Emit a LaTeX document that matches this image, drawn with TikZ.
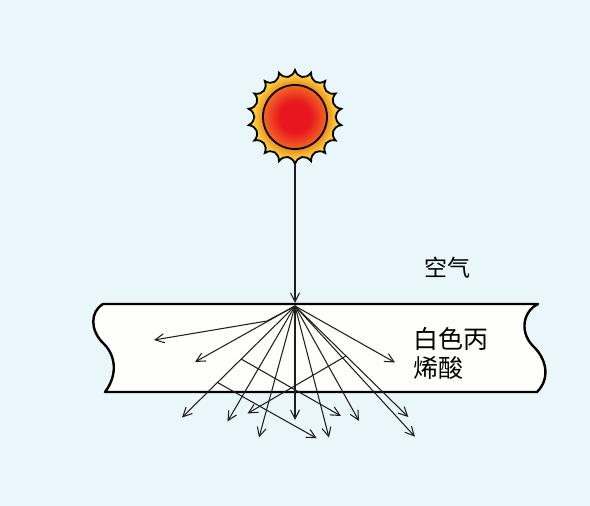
\documentclass[tikz,border=0pt]{standalone}
\usepackage{fontspec}
\newfontfamily\cjk{Noto Sans CJK SC}
\usetikzlibrary{arrows.meta,calc}

\definecolor{paper}{RGB}{233,246,250}
\definecolor{slabwhite}{RGB}{254,254,252}
\definecolor{sunred}{RGB}{232,22,30}
\definecolor{sunedge}{RGB}{242,104,36}
\definecolor{sunorange}{RGB}{238,136,32}
\definecolor{sunyellow}{RGB}{250,206,55}
\definecolor{sunpale}{RGB}{252,218,66}
\definecolor{ink}{RGB}{30,30,30}

% yellow ring around the disc, deepening to orange towards the disc
\pgfdeclareradialshading{sunring}{\pgfpointorigin}{color(0bp)=(sunorange); color(17bp)=(sunorange); color(22bp)=(sunyellow); color(25bp)=(sunpale); color(50bp)=(sunpale)}
% red disc turning orange at its rim
\pgfdeclareradialshading{sundisk}{\pgfpointorigin}{color(0bp)=(sunred); color(12bp)=(sunred); color(25bp)=(sunedge); color(50bp)=(sunedge)}

\tikzset{
  ray/.style={draw=ink, line width=1.05pt, -{Straight Barb[length=9pt,width=9pt]}},
  slabline/.style={line width=2.4pt, line join=round},
  sunline/.style={line width=1.8pt},
  txt/.style={inner sep=0pt, font=\cjk\fontsize{23}{29}\selectfont},
  txtbig/.style={inner sep=0pt, align=left, font=\cjk\fontsize{25}{29}\selectfont},
}

\begin{document}
\begin{tikzpicture}[x=1pt,y=-1pt]
  \fill[paper] (0,0) rectangle (590,506);
  \useasboundingbox (0,0) rectangle (590,506);

  % acrylic slab with wavy cut ends
  \filldraw[fill=slabwhite, slabline]
    (103,304) -- (538,304)
    .. controls (522,312) and (520,333) .. (533,346)
    .. controls (546,358) and (551,378) .. (537,392)
    -- (105,392)
    .. controls (118,375) and (116,355) .. (103,343)
    .. controls (90,330) and (90,312) .. (103,304) -- cycle;

  % sun
  \begin{scope}[shift={(295,117)}]
    \coordinate (sun) at (0,0);
    \shadedraw[shading=sunring, sunline, line join=miter]
      (90:47pt) \foreach \i in {0,...,17}{
        .. controls ({94+20*\i}:39pt) and ({106+20*\i}:39pt) .. ({110+20*\i}:47pt)
      } -- cycle;
    \shadedraw[shading=sundisk, sunline] (sun) circle (32pt);
    \coordinate (sunbase) at (270:47pt);
  \end{scope}

  % incoming ray
  \coordinate (top) at (295,303);
  \coordinate (o) at (295,306);
  \draw[ray] (sunbase) -- (top);

  % scattered rays
  \coordinate (k1) at (267,321);
  \coordinate (e1) at (154,340);
  \coordinate (e2) at (195,362);
  \coordinate (ea) at (182,417.5);
  \coordinate (eb) at (227.5,421.5);
  \coordinate (ec) at (259,437.5);
  \coordinate (ed) at (295,420);
  \coordinate (ee) at (329,437.5);
  \coordinate (ef) at (359,421);
  \coordinate (eh) at (408.3,417);
  \coordinate (ej) at (415,436.7);
  \coordinate (ei) at (395,362.5);

  \draw[ray] (o) -- (k1) -- (e1);
  \draw[ray] (o) -- (e2);
  \draw[ray] (o) -- (ea);
  \draw[ray] (o) -- (eb);
  \draw[ray] (o) -- (ec);
  \draw[ray] (o) -- (ed);
  \draw[ray] (o) -- (ee);
  \draw[ray] (o) -- (ef);
  \draw[ray] (o) -- (eh);
  \draw[ray] (o) -- (ej);
  \draw[ray] (o) -- (ei);

  % second scattering
  \coordinate (b1) at ($(o)!0.476!(ea)$);
  \coordinate (b2) at ($(o)!0.686!(ea)$);
  \coordinate (b3) at ($(o)!0.45!(eh)$);
  \coordinate (f1) at (341,416);
  \coordinate (f2) at (316.7,438.3);
  \coordinate (f3) at (247.5,413.5);
  \draw[ray] (b1) -- (f1);
  \draw[ray] (b2) -- (f2);
  \draw[ray] (b3) -- (f3);

  % labels
  \node[txt] (air) at (447,268) {空气};
  \node[txtbig, anchor=west] (acrylic) at (413,353) {白色丙\\烯酸};
\end{tikzpicture}
\end{document}
